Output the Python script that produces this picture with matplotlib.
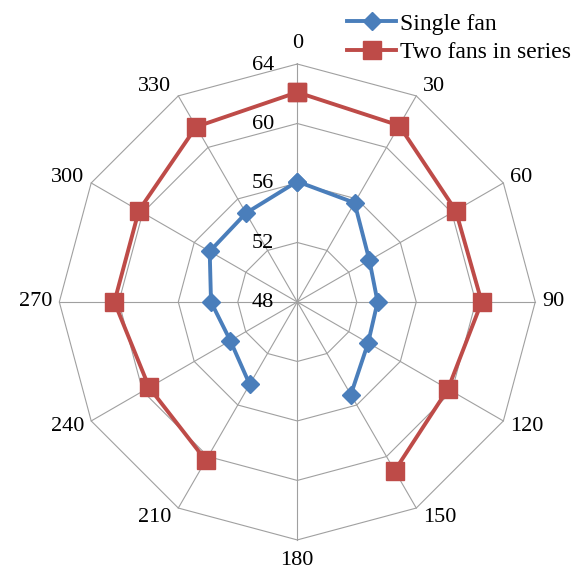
import numpy as np
import matplotlib.pyplot as plt

plt.rcParams['font.family'] = ['Liberation Serif', 'DejaVu Serif']

# categories (degrees) and the two series; 180 has no value
angles = [0, 30, 60, 90, 120, 150, 180, 210, 240, 270, 300, 330]
single_fan = [56.1, 55.7, 53.6, 53.4, 53.5, 55.2, np.nan, 54.4, 53.2, 53.8, 54.8, 54.9]
two_fans = [62.1, 61.7, 60.3, 60.4, 59.7, 61.1, np.nan, 60.3, 59.5, 60.3, 60.3, 61.6]
rings = [48, 52, 56, 60, 64]

rmin, rmax = rings[0], rings[-1]
theta = np.deg2rad(angles)


def to_xy(vals):
    # radar: 0 at top, clockwise, closed back to the first category
    v = np.append(np.asarray(vals, float), vals[0])
    t = np.append(theta, theta[0])
    r = (v - rmin) / (rmax - rmin)
    return r * np.sin(t), r * np.cos(t)


fig = plt.figure(figsize=(5.76, 5.78), dpi=100)
ax = fig.add_axes([0, 0, 1, 1])
ax.set_xlim(-1.249, 1.171)
ax.set_ylim(-1.160, 1.269)
ax.set_aspect('equal')
ax.axis('off')

grid_col = '#a0a0a0'
# polygon rings
for rv in rings[1:]:
    gx, gy = to_xy([rv] * len(angles))
    ax.plot(gx, gy, color=grid_col, lw=0.8, zorder=1)
# spokes
for t in theta:
    ax.plot([0, np.sin(t)], [0, np.cos(t)], color=grid_col, lw=0.8, zorder=1)

# series
x1, y1 = to_xy(single_fan)
ax.plot(x1, y1, color='#4a7ebb', lw=2.8, marker='D', ms=9, zorder=3, label='Single fan')
x2, y2 = to_xy(two_fans)
ax.plot(x2, y2, color='#be4b48', lw=2.8, marker='s', ms=13, zorder=2, label='Two fans in series')

# category labels
px = 72 / 100.0
for a, t in zip(angles, theta):
    s, c = np.sin(t), np.cos(t)
    if abs(s) < 0.01:
        dx, dy, ha = 0, c * 21, 'center'
    else:
        dx, dy, ha = 7 * np.sign(s), c * 11, ('left' if s > 0 else 'right')
    ax.annotate(str(a), (s, c), xytext=(dx * px, dy * px), textcoords='offset points',
                ha=ha, va='center', fontsize=16)

# radial value labels along the 0 spoke
for rv in rings:
    r = (rv - rmin) / (rmax - rmin)
    ax.annotate(str(rv), (0, r), xytext=(-23 * px, -1 * px), textcoords='offset points',
                ha='right', va='center', fontsize=16)

ax.legend(loc='upper left', bbox_to_anchor=(347 / 576, 1 - 13 / 578), bbox_transform=fig.transFigure,
          frameon=False, fontsize=17, borderpad=0, borderaxespad=0, handlelength=2.08,
          handletextpad=0.15, labelspacing=0.3)

fig.savefig('out.png', dpi=100)
